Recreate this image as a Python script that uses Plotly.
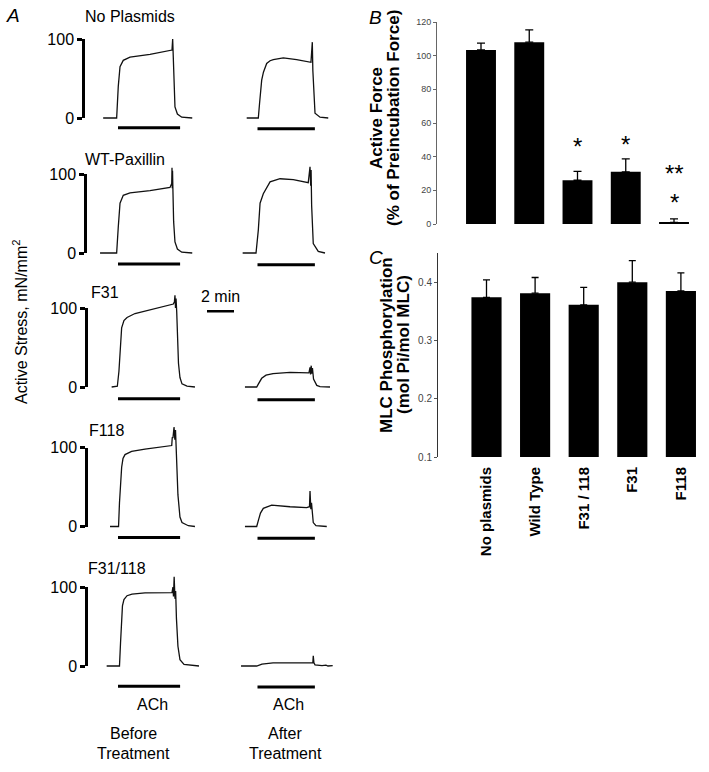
import plotly.graph_objects as go

W, H = 709, 772
FONT = "Arial, 'Liberation Sans', sans-serif"

# ---------------- Panel A data (time in min from ACh onset, force in mN/mm2) -------------
row_names = ["No Plasmids", "WT-Paxillin", "F31", "F118", "F31/118"]

before_t = [
    [-1.1, -0.1, 0.02, 0.15, 0.39, 0.89, 2.37, 3.85, 4.0, 4.05, 4.08, 4.12, 4.22, 4.4, 4.72, 5.5],
    [-1.33, -0.1, 0.02, 0.15, 0.39, 0.89, 2.37, 3.85, 3.98, 4.0, 4.02, 4.04, 4.06, 4.08, 4.12, 4.22, 4.4, 4.72, 5.5],
    [-0.47, -0.22, -0.05, 0.07, 0.15, 0.27, 0.44, 0.67, 1.26, 2.37, 3.24, 4.1, 4.18, 4.22, 4.26, 4.3, 4.35, 4.39, 4.48, 4.59, 4.74, 5.11, 5.7],
    [-0.59, 0.04, 0.11, 0.19, 0.27, 0.37, 0.52, 1.01, 2.0, 3.98, 4.02, 4.07, 4.15, 4.21, 4.26, 4.35, 4.44, 4.59, 4.74, 5.21, 5.7],
    [-0.84, 0.11, 0.19, 0.26, 0.33, 0.44, 0.67, 1.04, 2.0, 4.0, 4.07, 4.11, 4.16, 4.22, 4.27, 4.33, 4.44, 4.59, 4.89, 6.0],
]
before_f = [
    [0, 0, 40, 65, 73, 77, 80.5, 85, 86, 100, 84, 45, 14, 5, 1, 0],
    [0, 0, 33, 63, 73, 76, 79, 83, 88, 108, 82, 104, 86, 70, 40, 14, 5, 1, 0],
    [0, 1, 1, 20, 50, 75, 84, 88, 93, 98, 101, 105, 108, 116, 100, 112, 95, 70, 30, 12, 4, 1, 0],
    [0, 0, 30, 60, 75, 86, 91, 95, 98, 102.5, 113, 112, 126, 110, 122, 90, 40, 12, 5, 1, 0],
    [0, 0, 30, 60, 76, 84, 89, 91, 92.5, 93, 100, 88, 113, 85, 95, 60, 25, 8, 2, 0],
]
after_t = [
    [-0.8, 0.06, 0.15, 0.22, 0.31, 0.44, 0.68, 0.93, 1.17, 1.91, 2.9, 3.96, 4.06, 4.1, 4.26, 4.63, 5.24],
    [-1.1, -0.11, 0.06, 0.19, 0.43, 0.93, 1.67, 2.65, 3.76, 3.89, 3.94, 3.97, 4.01, 4.13, 4.5, 5.0],
    [-0.93, -0.06, 0.07, 0.31, 0.63, 1.15, 2.41, 3.64, 3.81, 3.89, 3.93, 3.98, 4.01, 4.07, 4.15, 4.39, 4.63, 5.37],
    [-0.93, -0.06, 0.07, 0.22, 0.43, 1.05, 2.41, 3.64, 3.85, 3.89, 3.95, 4.0, 4.13, 4.33, 5.13],
    [-1.22, -0.06, 0.33, 1.15, 2.41, 3.89, 4.1, 4.13, 4.18, 4.26, 4.78, 5.07, 5.22, 5.57],
]
after_f = [
    [0, 0, 18, 34, 48, 58, 69, 72.5, 74, 76, 74, 70.5, 96, 60, 6, 1, 0],
    [0, 0, 29, 63, 75, 90, 94, 93, 89, 109, 85, 105, 60, 12, 2, 0],
    [0, 0, 4, 11, 15, 17, 18.5, 17.5, 18, 25, 16, 27, 17, 24, 10, 2, 0.5, 0],
    [0, 0, 8, 17, 23, 27, 25, 24, 25, 45, 22, 30, 5, 1, 0],
    [0, 0, 2.5, 4, 4, 3.5, 4, 13, 4, 1.5, 0.5, 1, 0, 0.5],
]
ach_before = [0.0, 4.6]      # ACh application (min)
ach_after = [0.0, 4.25]
scale_ticks = [0, 100]       # stress scale bar (mN/mm2)
time_scale_min = 2           # time scale bar (min)

# ---------------- Panel B / C data -------------
categories = ["No plasmids", "Wild Type", "F31 / 118", "F31", "F118"]
force_mean = [103.4, 108.0, 26.0, 31.0, 1.0]
force_err = [4.0, 7.3, 5.3, 7.7, 2.0]
sig_marks = ["", "", "*", "*", "**"]
mlc_mean = [0.374, 0.381, 0.361, 0.400, 0.385]
mlc_err = [0.030, 0.027, 0.030, 0.037, 0.031]

# ---------------- layout geometry (pixels) -------------
PX_PER_UNIT = 0.79
PX_PER_MIN = 13.5
row_zero_px = [118, 253, 387, 526.5, 666]
scale_x_px = [85, 87, 88, 88, 88]
ach_level = [-12.5, -14, -15, -14, -25.5]
BEF_DOM = (70, 240); BEF_T0 = 118
AFT_DOM = (240, 345); AFT_T0 = 257.5
YR = (-30, 130)


def px(p):
    return p / W


def py(p):
    return 1 - p / H


fig = go.Figure()
lay = {"annotations": []}
n = [0]


def new_axes(xdom, ydom, xr, yr, xopt=None, yopt=None):
    n[0] += 1
    k = n[0]
    sx = "" if k == 1 else str(k)
    xa = dict(domain=xdom, range=xr, anchor="y" + sx, visible=False, fixedrange=True,
              automargin=False)
    ya = dict(domain=ydom, range=yr, anchor="x" + sx, visible=False, fixedrange=True,
              automargin=False)
    if xopt:
        xa.update(xopt)
    if yopt:
        ya.update(yopt)
    lay["xaxis" + sx] = xa
    lay["yaxis" + sx] = ya
    return "x" + sx, "y" + sx


line_style = dict(color="#111111", width=1.3)
bar_style = dict(color="#000000", width=3)

for r in range(5):
    z = row_zero_px[r]
    ydom = [py(z - YR[0] * PX_PER_UNIT), py(z - YR[1] * PX_PER_UNIT)]
    # before
    xr = [(BEF_DOM[0] - BEF_T0) / PX_PER_MIN, (BEF_DOM[1] - BEF_T0) / PX_PER_MIN]
    xa, ya = new_axes([px(BEF_DOM[0]), px(BEF_DOM[1])], ydom, xr, list(YR))
    fig.add_trace(go.Scatter(x=before_t[r], y=before_f[r], mode="lines", line=line_style,
                             xaxis=xa, yaxis=ya, showlegend=False, hoverinfo="skip"))
    fig.add_trace(go.Scatter(x=ach_before, y=[ach_level[r]] * 2, mode="lines", line=bar_style,
                             xaxis=xa, yaxis=ya, showlegend=False, hoverinfo="skip"))
    if r == 2:
        t0 = (207 - BEF_T0) / PX_PER_MIN
        fig.add_trace(go.Scatter(x=[t0, t0 + time_scale_min], y=[96, 96], mode="lines",
                                 line=dict(color="#000", width=2.5), xaxis=xa, yaxis=ya,
                                 showlegend=False, hoverinfo="skip"))
    # after
    xr = [(AFT_DOM[0] - AFT_T0) / PX_PER_MIN, (AFT_DOM[1] - AFT_T0) / PX_PER_MIN]
    xa, ya = new_axes([px(AFT_DOM[0]), px(AFT_DOM[1])], ydom, xr, list(YR))
    fig.add_trace(go.Scatter(x=after_t[r], y=after_f[r], mode="lines", line=line_style,
                             xaxis=xa, yaxis=ya, showlegend=False, hoverinfo="skip"))
    fig.add_trace(go.Scatter(x=ach_after, y=[ach_level[r] - 1] * 2, mode="lines", line=bar_style,
                             xaxis=xa, yaxis=ya, showlegend=False, hoverinfo="skip"))
    # stress scale bar as a real axis
    sdom = [py(z), py(z - 100 * PX_PER_UNIT)]
    sx = scale_x_px[r]
    xa, ya = new_axes([px(sx), px(sx + 2)], sdom, [0, 1], [0, 100],
                      yopt=dict(visible=True, showline=True, linecolor="#000", linewidth=2.5,
                                ticks="outside", ticklen=5, tickwidth=2.5, tickcolor="#000",
                                tickvals=scale_ticks, ticktext=[str(v) for v in scale_ticks],
                                tickfont=dict(family=FONT, size=16, color="#000"),
                                showgrid=False, zeroline=False, mirror=False))
    fig.add_trace(go.Scatter(x=[0.5], y=[50], mode="lines", line=dict(width=0),
                             xaxis=xa, yaxis=ya, showlegend=False, hoverinfo="skip"))

# ---------------- Panel B -------------
b_c0, b_dx = 481, 48.25
xa, ya = new_axes([px(437), px(700)], [py(224), py(22)],
                  [(437 - b_c0) / b_dx, (700 - b_c0) / b_dx], [0, 120],
                  xopt=dict(type="category", visible=False),
                  yopt=dict(visible=True, showline=True, linecolor="#666", linewidth=1,
                            ticks="outside", ticklen=3, tickcolor="#666", tickvals=[0, 20, 40, 60, 80, 100, 120],
                            tickfont=dict(family=FONT, size=9, color="#444"), showgrid=False,
                            zeroline=False))
fig.add_trace(go.Bar(x=categories, y=force_mean, marker=dict(color="#000", line=dict(width=0)),
                     error_y=dict(type="data", array=force_err, arrayminus=[0] * 5, symmetric=False,
                                  color="#000", thickness=1.3, width=4),
                     xaxis=xa, yaxis=ya, showlegend=False, hoverinfo="skip"))
star_y = [None, None, 46, 47, 30]
for i, s in enumerate(sig_marks):
    if s:
        lay["annotations"].append(dict(
            x=categories[i], y=star_y[i], xref=xa, yref=ya, text=s, showarrow=False,
            font=dict(family=FONT, size=24, color="#000"), yanchor="middle"))
lay["annotations"].append(dict(x=categories[4], y=13, xref=xa, yref=ya, text="*", showarrow=False,
                               font=dict(family=FONT, size=24, color="#000"), yanchor="middle"))

# ---------------- Panel C -------------
c_c0, c_dx = 486.5, 48.6
xa, ya = new_axes([px(438), px(705)], [py(457), py(253)],
                  [(438 - c_c0) / c_dx, (705 - c_c0) / c_dx], [0.1, 0.45],
                  xopt=dict(type="category", visible=True, showline=False, ticks="", tickangle=-90,
                            tickfont=dict(family=FONT, size=15, color="#000", weight="bold"),
                            ticklabelstandoff=6, showgrid=False),
                  yopt=dict(visible=True, showline=True, linecolor="#333", linewidth=1,
                            ticks="outside", ticklen=3, tickcolor="#555", tickvals=[0.1, 0.2, 0.3, 0.4],
                            tickformat=".1f",
                            tickfont=dict(family=FONT, size=10, color="#444"), showgrid=False,
                            zeroline=False))
fig.add_trace(go.Bar(x=categories, y=mlc_mean, marker=dict(color="#000", line=dict(width=0)),
                     error_y=dict(type="data", array=mlc_err, arrayminus=[0] * 5, symmetric=False,
                                  color="#000", thickness=1.3, width=3.5),
                     xaxis=xa, yaxis=ya, showlegend=False, hoverinfo="skip"))


# ---------------- text -------------
def txt(t, x, y, size=16, xanchor="center", yanchor="middle", angle=0, bold=False, italic=False):
    if bold:
        t = "<b>" + t + "</b>"
    if italic:
        t = "<i>" + t + "</i>"
    lay["annotations"].append(dict(
        text=t, x=px(x), y=py(y), xref="paper", yref="paper", showarrow=False,
        xanchor=xanchor, yanchor=yanchor, textangle=angle,
        font=dict(family=FONT, size=size, color="#000")))


txt("A", 4, 16, size=19, xanchor="left", italic=True)
label_pos = [(83, 17), (83, 160), (89, 292), (87, 430), (86, 568)]
for name, (lx, ly) in zip(row_names, label_pos):
    txt(name, lx, ly, size=16, xanchor="left")
txt(f"{time_scale_min} min", 220, 296, size=16)
txt("Active Stress, mN/mm<sup>2</sup>", 20, 322, size=16, angle=-90)
txt("ACh", 152, 704, size=16)
txt("ACh", 288, 704, size=16)
txt("Before", 133, 733, size=16)
txt("Treatment", 133, 753, size=16)
txt("After", 285, 733, size=16)
txt("Treatment", 285, 753, size=16)

txt("B", 367, 18, size=19, xanchor="left", italic=True)
txt("C", 367, 257, size=19, xanchor="left", italic=True)
txt("Active Force", 377, 118, size=17, angle=-90, bold=True)
txt("(% of Preincubation Force)", 394, 118, size=17, angle=-90, bold=True)
txt("MLC Phosphorylation", 386, 345, size=17, angle=-90, bold=True)
txt("(mol Pi/mol MLC)", 403, 345, size=17, angle=-90, bold=True)

fig.update_layout(
    template="none",
    width=W, height=H, autosize=False, margin=dict(l=0, r=0, t=0, b=0, pad=0),
    paper_bgcolor="white", plot_bgcolor="rgba(0,0,0,0)",
    bargap=0.38, showlegend=False,
    font=dict(family=FONT, color="#000"),
    **lay,
)
fig.write_html("out.html", config={"displayModeBar": False},
               post_script="document.body.style.margin='0';document.body.style.overflow='hidden';")
